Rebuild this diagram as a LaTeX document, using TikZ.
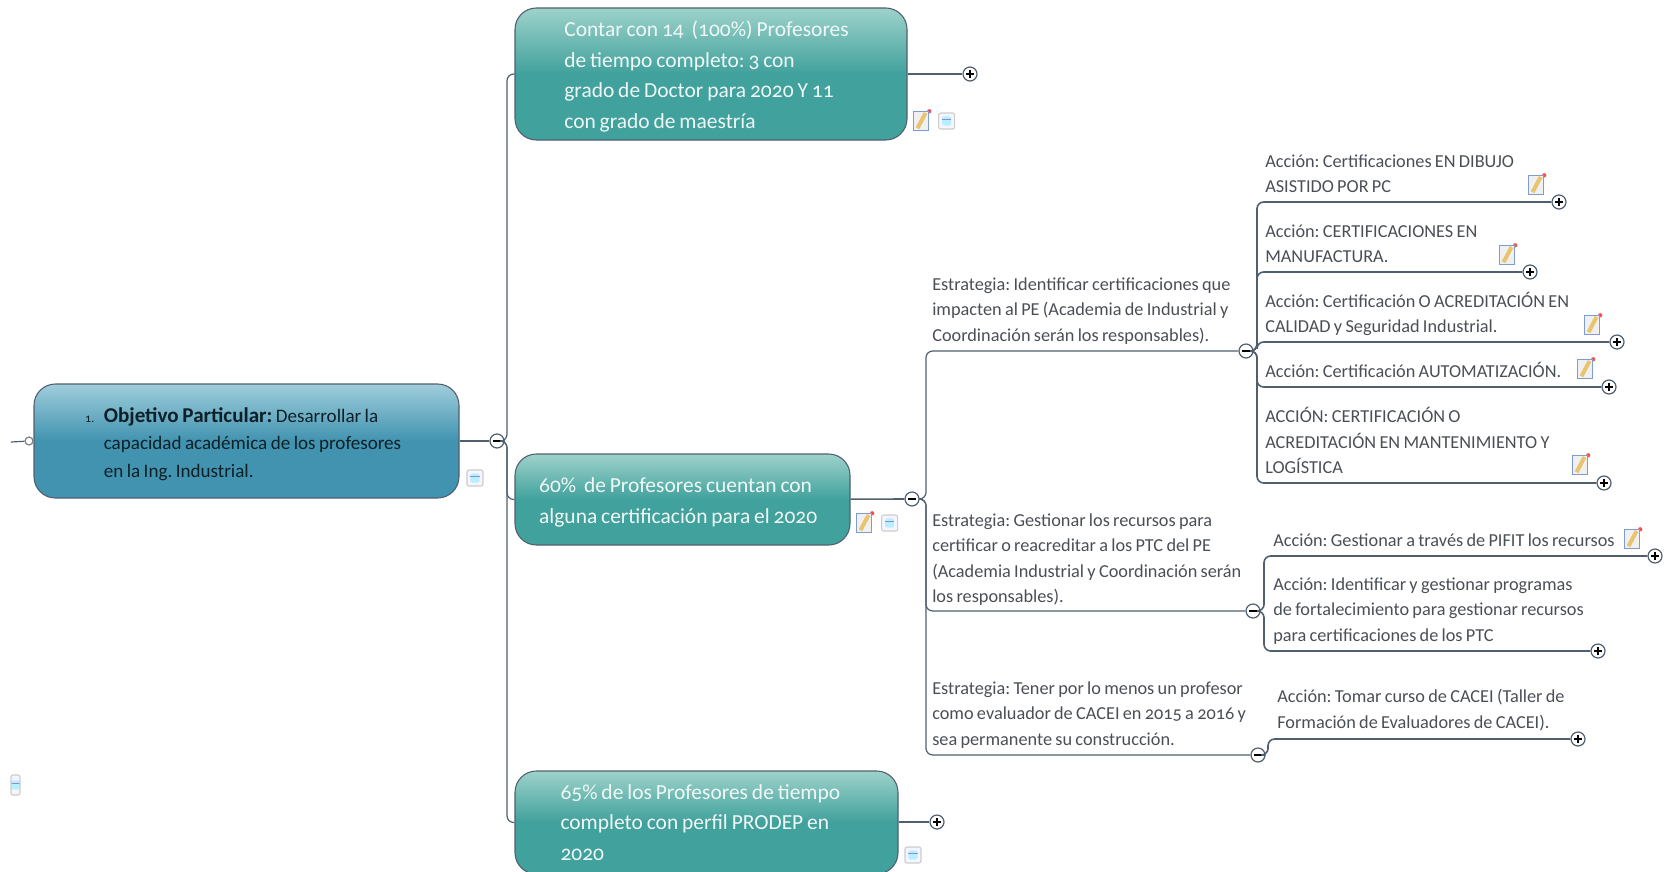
\documentclass[tikz,border=0pt]{standalone}
\usepackage{fontspec}
\setmainfont{Carlito}[Numbers=OldStyle, WordSpace=0.8]
\frenchspacing
\usetikzlibrary{positioning}
\definecolor{rootlight}{HTML}{A0CDDC}
\definecolor{rootbase}{HTML}{4193B0}
\definecolor{goallight}{HTML}{9DD2CA}
\definecolor{goalbase}{HTML}{41A19C}
\definecolor{wire}{HTML}{4F5F70}
\definecolor{inktext}{HTML}{4A4F56}
\definecolor{pencilbody}{HTML}{E9C46F}
\definecolor{pencilframe}{HTML}{7F9CD0}
\tikzset{
    rootbox/.style = {draw=wire, thick, rounded corners=16pt, inner xsep=0pt, align=flush left, text=black!78!rootbase, top color=rootlight, bottom color=rootbase, middle color=rootbase, font=\fontsize{14.3}{20.6}\selectfont},
    goalbox/.style = {draw=wire, thick, rounded corners=16pt, inner xsep=0pt, align=flush left, text=white!92!goalbase, top color=goallight, bottom color=goalbase, middle color=goalbase, font=\fontsize{16.1}{22.9}\selectfont},
    lowered/.style = {execute at begin node={\rule{0pt}{15.5pt}}},
    plan/.style = {anchor=west, inner sep=0pt, align=left, text=inktext, font=\fontsize{13.7}{19}\selectfont},
    wirethin/.style = {draw=wire, line width=0.9pt, rounded corners=5pt},
    wirethick/.style = {draw=wire, line width=1.2pt, rounded corners=5pt},
    fold/.style = {circle, draw=wire, fill=white, line width=0.9pt, inner sep=0pt, minimum size=10.5pt},
    foldminus/.style = {fold, path picture={\draw[black, line width=0.8pt] ([xshift=-2.8pt]path picture bounding box.center) -- ([xshift=2.8pt]path picture bounding box.center);}},
    foldplus/.style = {fold, path picture={\draw[black, line width=0.8pt] ([xshift=-2.8pt]path picture bounding box.center) -- ([xshift=2.8pt]path picture bounding box.center) ([yshift=-2.8pt]path picture bounding box.center) -- ([yshift=2.8pt]path picture bounding box.center);}},
    pencil/.style = {draw=pencilframe, fill=gray!12, line width=0.7pt, inner sep=0pt, minimum width=11pt, minimum height=14.5pt, path picture={\draw[pencilbody, line width=3pt] ([shift={(-2.6pt,-5.4pt)}]path picture bounding box.center) -- ([shift={(3.4pt,6pt)}]path picture bounding box.center);}, append after command={\pgfextra{\fill[red!70] (\tikzlastnode.north east) ++(0.3pt,-0.3pt) circle (1.6pt);}}},
    notemark/.style = {draw=gray!40, fill=blue!4, rounded corners=1.5pt, line width=0.8pt, inner sep=0pt, minimum size=12pt, path picture={\fill[blue!22!cyan!28] ([shift={(-3.4pt,-3.4pt)}]path picture bounding box.center) rectangle ([shift={(3.4pt,3.4pt)}]path picture bounding box.center); \draw[blue!50!gray!60, line width=0.4pt] ([shift={(-3.4pt,1.6pt)}]path picture bounding box.center) -- ([shift={(3.4pt,1.6pt)}]path picture bounding box.center);}}
}
\begin{document}
\begin{tikzpicture}[x=0.75pt, y=-0.75pt, node distance = 7pt]
        \useasboundingbox (0,0) rectangle (1665,871);
        % main boxes
        \node[rootbox, lowered, minimum width=318.75pt, text width=242pt, minimum height=85.5pt] (objective) at (246.5,441) {\makebox[14pt][l]{\small 1.}\textbf{\fontsize{15.8}{20.6}\selectfont Objetivo Particular:} Desarrollar la\\\hspace*{14pt}capacidad académica de los profesores\\\hspace*{14pt}en la Ing. Industrial.};
        \node[goalbox, lowered, minimum width=294pt, text width=220pt, minimum height=99pt]    (staff)   at (711,74)     {Contar con 14~ (100\%) Profesores\\de tiempo completo: 3 con\\grado de Doctor para 2020 Y 11\\con grado de maestría};
        \node[goalbox, lowered, minimum width=251.25pt, text width=215pt, minimum height=68.25pt] (certified) at (682.5,499.5) {60\%~ de Profesores cuentan con\\alguna certificación para el 2020};
        \node[goalbox, minimum width=287.25pt, text width=219pt, minimum height=77.25pt] (prodep) at (706.5,822.5)   {65\% de los Profesores de tiempo\\completo con perfil PRODEP en\\2020};
        % fold marks
        \node[fold, minimum size=6pt, draw=gray]  (objectiveknob) at (29,441) {};
        \coordinate (objectivein) at (11,442);
        \node[foldminus] (objectivefold) at (497,441) {};
        \node[foldplus]  (stafffold)     at (970,74)  {};
        \node[foldminus] (certifiedfold) at (912,499) {};
        \node[foldplus]  (prodepfold)    at (937,822) {};
        \node[foldminus] (identifyfold)  at (1246,351) {};
        \node[foldminus] (managefold)    at (1253,611) {};
        \node[foldminus] (evaluatorfold) at (1258,755) {};
        \node[foldplus]  (drawingfold)   at (1559,202) {};
        \node[foldplus]  (makingfold)    at (1530,272) {};
        \node[foldplus]  (qualityfold)   at (1617,342) {};
        \node[foldplus]  (autofold)      at (1609,387) {};
        \node[foldplus]  (upkeepfold)    at (1604,483) {};
        \node[foldplus]  (pifitfold)     at (1655,556) {};
        \node[foldplus]  (fundsfold)     at (1598,651) {};
        \node[foldplus]  (coursefold)    at (1578,739) {};
        \coordinate (objectivestem) at (507,441);
        \coordinate (certifiedstem) at (926,499);
        \coordinate (identifystem)  at (1257,351);
        \coordinate (managestem)    at (1264,611);
        \coordinate (evaluatorstem) at (1268,755);
        % strategy and action texts
        \node[plan] (identify)  at (932,311)    {Estrategia: Identificar certificaciones que\\impacten al PE (Academia de Industrial y\\Coordinación serán los responsables).};
        \node[plan] (manage)    at (932,559.5)  {Estrategia: Gestionar los recursos para\\certificar o reacreditar a los PTC del PE\\(Academia Industrial y Coordinación serán\\los responsables).};
        \node[plan] (evaluator) at (932,715)    {Estrategia: Tener por lo menos un profesor\\como evaluador de CACEI en 2015 a 2016 y\\sea permanente su construcción.};
        \node[plan] (drawing)   at (1265,173.5) {Acción: Certificaciones EN DIBUJO\\ASISTIDO POR PC};
        \node[plan] (making)    at (1265,244)   {Acción: CERTIFICACIONES EN\\MANUFACTURA.};
        \node[plan] (quality)   at (1265,314)   {Acción: Certificación O ACREDITACIÓN EN\\CALIDAD y Seguridad Industrial.};
        \node[plan] (auto)      at (1265,370)   {Acción: Certificación AUTOMATIZACIÓN.};
        \node[plan] (upkeep)    at (1265,440.5) {ACCIÓN: CERTIFICACIÓN O\\ACREDITACIÓN EN MANTENIMIENTO Y\\LOGÍSTICA};
        \node[plan] (pifit)     at (1273,540)   {Acción: Gestionar a través de PIFIT los recursos};
        \node[plan] (funds)     at (1273,611)   {Acción: Identificar y gestionar programas\\de fortalecimiento para gestionar recursos\\para certificaciones de los PTC};
        \node[plan] (course)    at (1277,710)   {Acción: Tomar curso de CACEI (Taller de\\Formación de Evaluadores de CACEI).};
        % icons
        \node[pencil]                          (staffpencil)     at (921,121) {};
        \node[notemark, right = 7pt of staffpencil] (staffnote) {};
        \node[pencil]                          (certifiedpencil) at (864,523) {};
        \node[notemark, right = 7pt of certifiedpencil] (certifiednote) {};
        \node[pencil]   (drawingpencil) at (1536,185) {};
        \node[pencil]   (makingpencil)  at (1507,255) {};
        \node[pencil]   (qualitypencil) at (1592,325) {};
        \node[pencil]   (autopencil)    at (1585,369) {};
        \node[pencil]   (upkeeppencil)  at (1580,465) {};
        \node[pencil]   (pifitpencil)   at (1632,539) {};
        \node[notemark] (objectivenote) at (475,478) {};
        \node[notemark] (prodepnote)    at (913,855) {};
        \node[notemark, minimum size=6.75pt, minimum height=15pt] (strayednote) at (15.5,785) {};
        % connectors
        \draw[wirethin]  (objectivein) -- (objectiveknob);
        \draw[wirethin]  (objective) -- (objectivefold);
        \draw[wirethin]  (objectivefold) -- (objectivestem) |- (staff.west);
        \draw[wirethin]  (objectivefold) -- (objectivestem) |- (certified.west);
        \draw[wirethin]  (objectivefold) -- (objectivestem) |- (prodep.west);
        \draw[wirethick] (staff.east |- stafffold) -- (stafffold);
        \draw[wirethick] (certified) -- (certifiedfold);
        \draw[wirethick] (prodep.east |- prodepfold) -- (prodepfold);
        \draw[wirethin]  (certifiedfold) -- (certifiedstem) |- (identifyfold);
        \draw[wirethin]  (certifiedfold) -- (certifiedstem) |- (managefold);
        \draw[wirethin]  (certifiedfold) -- (certifiedstem) |- (evaluatorfold);
        \draw[wirethick] (identifyfold) -- (identifystem) |- (drawingfold);
        \draw[wirethick] (identifyfold) -- (identifystem) |- (makingfold);
        \draw[wirethick] (identifyfold) -- (identifystem) |- (qualityfold);
        \draw[wirethick] (identifyfold) -- (identifystem) |- (autofold);
        \draw[wirethick] (identifyfold) -- (identifystem) |- (upkeepfold);
        \draw[wirethick] (managefold) -- (managestem) |- (pifitfold);
        \draw[wirethick] (managefold) -- (managestem) |- (fundsfold);
        \draw[wirethick] (evaluatorfold) -- (evaluatorstem) |- (coursefold);
    \end{tikzpicture}
\end{document}
